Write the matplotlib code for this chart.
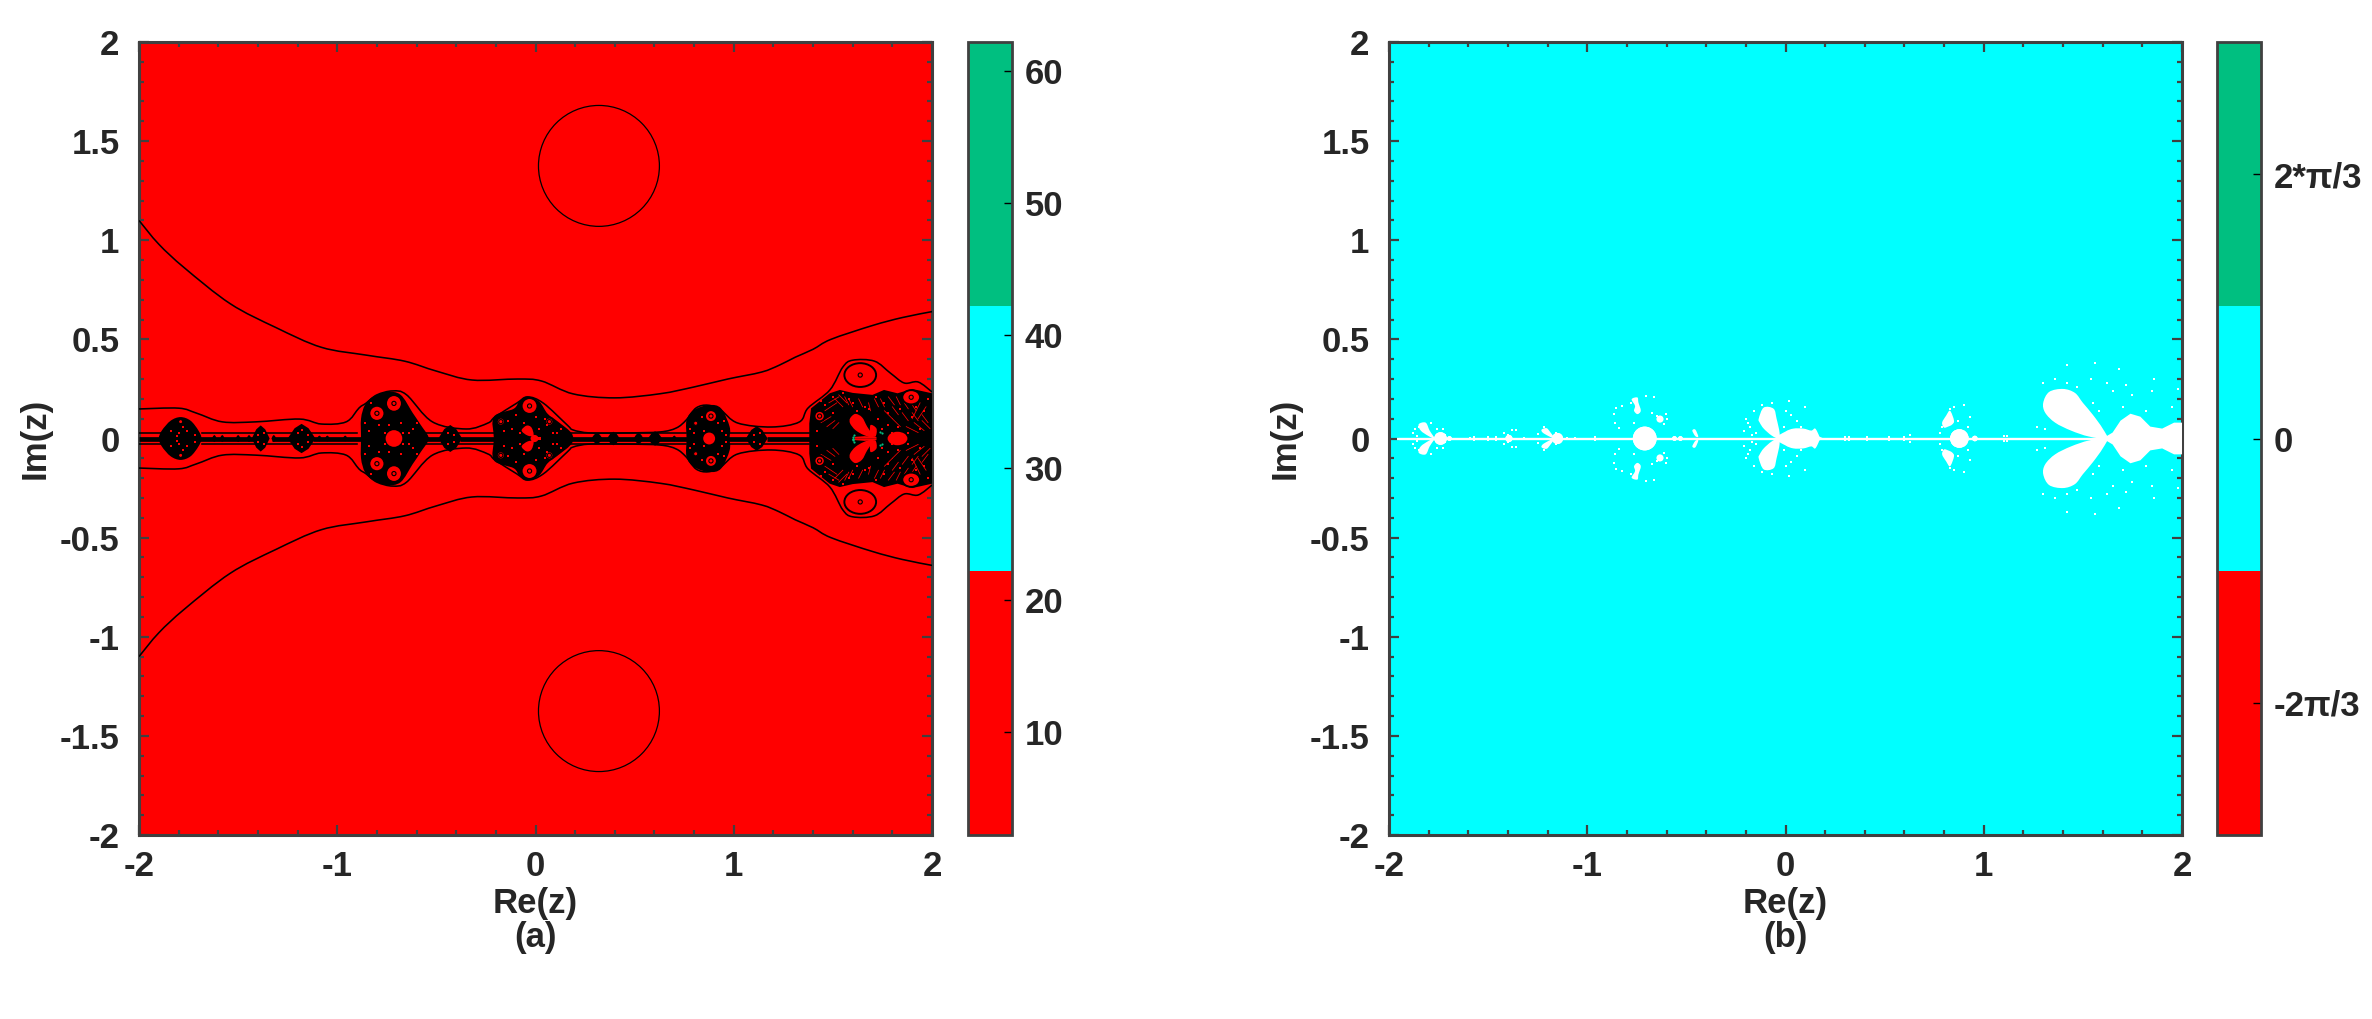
import matplotlib
matplotlib.use('Agg')
import matplotlib.pyplot as plt
from matplotlib.colors import ListedColormap
from matplotlib.patches import Ellipse, PathPatch
from matplotlib.path import Path
import numpy as np

plt.rcParams['font.family'] = ['Liberation Sans', 'DejaVu Sans']
plt.rcParams['font.weight'] = 'bold'
plt.rcParams['axes.unicode_minus'] = False

W, H = 2372, 1019
DARK = '#262626'
EDGE = '#404040'

# ── DATA ─────────────────────────────────────────────────────────────────────
band_colors = ['#FF0000', '#00FFFF', '#00BF80']
grid_a = [[10, 10], [10, 10]]
grid_b = [[0, 0], [0, 0]]
range_a = (2.2, 62.2)
range_b = (-np.pi, np.pi)
ticks_a = [10, 20, 30, 40, 50, 60]
ticks_b = [-2 * np.pi / 3, 0, 2 * np.pi / 3]
ticklabels_b = ['-2\u03c0/3', '0', '2*\u03c0/3']

# contours, upper half plane (mirrored when drawn)
outer_re = [-2, -1.9, -1.77, -1.54, -1.31, -1.08, -0.85, -0.66, -0.50, -0.32, -0.09, 0.03, 0.19,
            0.40, 0.63, 0.80, 0.97, 1.14, 1.23, 1.31, 1.40, 1.49, 1.7, 1.85, 2]
outer_im = [1.10, 0.98, 0.86, 0.68, 0.56, 0.46, 0.42, 0.39, 0.34, 0.295, 0.30, 0.29, 0.225,
            0.205, 0.226, 0.26, 0.30, 0.335, 0.37, 0.41, 0.45, 0.50, 0.57, 0.61, 0.64]
mid_re = [-2, -1.80, -1.71, -1.58, -1.41, -1.19, -1.08, -0.955, -0.89, -0.855, -0.80, -0.72, -0.65,
          -0.52, -0.35, -0.24, -0.205, -0.095, -0.04, 0.04, 0.16, 0.19, 0.275, 0.45, 0.628,
          0.71, 0.76, 0.81, 0.87, 0.935, 1.02, 1.19, 1.33, 1.375, 1.485, 1.55, 1.60, 1.71, 1.79,
          1.86, 1.93, 2.0]
mid_im = [0.149, 0.153, 0.128, 0.084, 0.084, 0.098, 0.073, 0.084, 0.154, 0.178, 0.22, 0.24, 0.22,
          0.084, 0.048, 0.078, 0.108, 0.178, 0.21, 0.178, 0.068, 0.043, 0.028, 0.028, 0.033,
          0.053, 0.093, 0.154, 0.168, 0.143, 0.078, 0.058, 0.083, 0.154, 0.245, 0.36, 0.395, 0.39,
          0.33, 0.28, 0.285, 0.235]
inner_re = [[-2, -1.92, -1.88], [-1.68, -0.9], [-0.56, -0.2], [0.18, 0.76], [0.97, 1.38]]
inner_im = [[0.03, 0.03, 0.03], [0.028, 0.028], [0.03, 0.03], [0.028, 0.028], [0.028, 0.028]]
circle_re = 0.32
circle_im = 1.375
circle_r = 0.305

# strand along the real axis (start, end)
strand_start = [-2, -1.7, -1.33, -1.12, -0.62, -0.38, 0.15, 0.95, 1.17]
strand_end = [-1.88, -1.42, -1.24, -0.86, -0.48, -0.2, 0.78, 1.07, 1.4]

# diamond beads: centre, half width, half height
bead_re = [-1.386, -1.18, -1.62, -1.58, -1.5, -1.445, -1.32, -1.09, -1.05, -0.96, -0.565, -0.43,
           0.31, 0.393, 0.52, 0.603, 0.70, 1.116]
bead_rx = [0.045, 0.07, 0.012, 0.012, 0.012, 0.012, 0.012, 0.012, 0.012, 0.012, 0.03, 0.06,
           0.028, 0.032, 0.025, 0.036, 0.012, 0.055]
bead_ry = [0.066, 0.074, 0.018, 0.018, 0.018, 0.018, 0.018, 0.015, 0.015, 0.015, 0.035, 0.068,
           0.028, 0.034, 0.028, 0.036, 0.015, 0.062]

# black bulk outlines, upper half
bulk0_re = [-1.90, -1.885, -1.84, -1.79, -1.74, -1.70, -1.685]
bulk0_im = [0, 0.04, 0.09, 0.108, 0.09, 0.04, 0]
bulk1_re = [-0.88, -0.88, -0.86, -0.82, -0.75, -0.68, -0.62, -0.58, -0.54]
bulk1_im = [0, 0.10, 0.17, 0.21, 0.235, 0.22, 0.13, 0.07, 0]
bulk2_re = [-0.21, -0.21, -0.11, -0.08, -0.035, 0.02, 0.06, 0.107, 0.175, 0.19]
bulk2_im = [0, 0.11, 0.15, 0.19, 0.21, 0.185, 0.126, 0.09, 0.035, 0]
bulk3_re = [0.762, 0.762, 0.80, 0.876, 0.936, 0.979, 0.979]
bulk3_im = [0, 0.093, 0.144, 0.169, 0.152, 0.06, 0]
bulk4_re = [1.381, 1.381, 1.39, 1.484, 1.535, 1.60, 1.70, 1.758, 1.826, 1.90, 2.0, 2.0]
bulk4_im = [0, 0.076, 0.152, 0.228, 0.245, 0.23, 0.22, 0.245, 0.228, 0.25, 0.228, 0]

# red discs with a black edge and a dot, upper half
ring_re = [-1.79, -0.80, -0.714, -0.03, -0.175, 0.07, 0.808, 0.885, 1.638, 1.895, 1.433]
ring_im = [0.085, 0.127, 0.177, 0.164, 0.085, 0.085, 0.077, 0.113, 0.32, 0.208, 0.113]
ring_rx = [0.014, 0.038, 0.04, 0.04, 0.02, 0.02, 0.016, 0.03, 0.08, 0.045, 0.026]
ring_ry = [0.014, 0.038, 0.042, 0.04, 0.02, 0.02, 0.016, 0.03, 0.06, 0.036, 0.026]

# red holes on the real axis
hole_re = [-0.714, 0.876, -0.005, 1.826]
hole_rx = [0.042, 0.03, 0.02, 0.05]
hole_ry = [0.042, 0.03, 0.018, 0.034]

# red petals, upper half
petal1_re = [1.587, 1.613, 1.647, 1.673, 1.707, 1.655, 1.613, 1.587]
petal1_im = [0.102, 0.124, 0.107, 0.06, 0.004, 0.018, 0.043, 0.076]
petal2_re = [1.610, 1.72, 1.72, 1.66, 1.61]
petal2_im = [0, 0, 0.008, 0.012, 0.008]
petal3_re = [1.69, 1.72, 1.715, 1.69]
petal3_im = [0.068, 0.05, 0.01, 0.02]
petal4_re = [-0.07, -0.045, -0.02, -0.01, -0.04]
petal4_im = [0.04, 0.065, 0.055, 0.015, 0.015]
petal5_re = [-0.02, 0.03, 0.03, -0.02]
petal5_im = [0.008, 0.008, 0.0, 0.0]

# red hatching in the big clusters (start/end of each stroke, upper half)
ray_x0 = [1.46, 1.48, 1.51, 1.53, 1.56, 1.58, 1.44, 1.47, 1.50, 1.74, 1.78, 1.82, 1.86, 1.90, 1.94, 1.97,
          1.76, 1.80, 1.85, 1.90, 1.95, 1.87, 1.91, 1.95, 1.80, 1.63, 1.68, 1.71]
ray_y0 = [0.14, 0.18, 0.20, 0.22, 0.21, 0.20, 0.08, 0.06, 0.05, 0.20, 0.21, 0.21, 0.18, 0.17, 0.18, 0.16,
          0.14, 0.16, 0.13, 0.13, 0.12, 0.06, 0.08, 0.09, 0.10, 0.20, 0.18, 0.20]
ray_x1 = [1.52, 1.53, 1.55, 1.57, 1.58, 1.60, 1.49, 1.51, 1.53, 1.76, 1.81, 1.84, 1.88, 1.92, 1.90, 1.93,
          1.80, 1.83, 1.88, 1.93, 1.98, 1.93, 1.96, 1.99, 1.84, 1.65, 1.69, 1.73]
ray_y1 = [0.18, 0.21, 0.16, 0.18, 0.17, 0.16, 0.11, 0.09, 0.08, 0.16, 0.17, 0.17, 0.15, 0.14, 0.10, 0.10,
          0.10, 0.12, 0.09, 0.09, 0.08, 0.03, 0.04, 0.05, 0.06, 0.16, 0.14, 0.16]

# red specks in the clusters, upper half
speck_re = [-1.84, -1.80, -1.76, -1.72, -1.78, -1.81, -1.40, -1.37, -1.20, -1.15, -1.18,
            -0.84, -0.76, -0.67, -0.62, -0.79, -0.74, -0.68, -0.64, -0.86, -0.83, -0.60,
            -0.16, -0.12, -0.08, 0.02, 0.06, 0.11, 0.13, -0.14, -0.06, 0.05, 0.09, -0.10, 0.00,
            0.80, 0.85, 0.94, 0.96, 0.84, 0.92, 0.78, 0.95,
            1.10, 1.13, -0.44, -0.41,
            1.42, 1.46, 1.50, 1.55, 1.60, 1.66, 1.72, 1.78, 1.84, 1.90, 1.96, 1.75, 1.80, 1.88, 1.94,
            1.62, 1.68, 1.73, 1.78, 1.92, 1.98, 1.44, 1.50, 1.58, 1.76, 1.83]
speck_im = [0.04, 0.03, 0.04, 0.02, 0.06, 0.015, 0.02, 0.03, 0.03, 0.02, 0.045,
            0.04, 0.03, 0.03, 0.05, 0.07, 0.07, 0.08, 0.03, 0.08, 0.18, 0.08,
            0.04, 0.05, 0.03, 0.05, 0.07, 0.03, 0.05, 0.09, 0.08, 0.10, 0.03, 0.12, 0.11,
            0.03, 0.04, 0.04, 0.02, 0.11, 0.08, 0.05, 0.09,
            0.02, 0.03, 0.03, 0.02,
            0.04, 0.17, 0.21, 0.23, 0.18, 0.16, 0.21, 0.13, 0.15, 0.11, 0.14, 0.05, 0.03, 0.03, 0.05,
            0.14, 0.15, 0.10, 0.07, 0.16, 0.20, 0.19, 0.13, 0.20, 0.18, 0.06]

# small green arcs near the centre of the right cluster
teal_re = [1.602, 1.60, 1.605, 1.74, 1.75]
teal_im = [0.008, 0.0, 0.016, 0.035, 0.028]

# panel (b): white line and blobs, upper half
line_b_start = -1.96
line_b_end = 2.0
blob1_re = [-1.85, -1.815, -1.795, -1.77, -1.80, -1.84]
blob1_im = [0.072, 0.08, 0.04, 0.0, 0.012, 0.04]
blob2_re = [-1.23, -1.205, -1.185, -1.165, -1.195, -1.225]
blob2_im = [0.045, 0.052, 0.03, 0.0, 0.012, 0.03]
blob3_re = [-0.776, -0.747, -0.742, -0.73, -0.747, -0.764, -0.759]
blob3_im = [0.198, 0.207, 0.182, 0.14, 0.123, 0.14, 0.165]
blob4_re = [-0.47, -0.455, -0.44, -0.455]
blob4_im = [0.04, 0.045, 0.01, 0.012]
blob5_re = [-0.135, -0.11, -0.06, -0.045, -0.03, -0.035, -0.07, -0.11, -0.13]
blob5_im = [0.10, 0.156, 0.15, 0.10, 0.03, 0.0, 0.015, 0.05, 0.08]
blob6_re = [-0.04, 0.0, 0.04, 0.09, 0.13, 0.15, 0.17, 0.17]
blob6_im = [0.0, 0.035, 0.05, 0.05, 0.04, 0.05, 0.012, 0.0]
blob7_re = [0.81, 0.83, 0.85, 0.84, 0.82, 0.80, 0.79]
blob7_im = [0.115, 0.14, 0.09, 0.07, 0.06, 0.055, 0.08]
blob8_re = [1.30, 1.33, 1.40, 1.46, 1.50, 1.55, 1.60, 1.62, 1.53, 1.44, 1.36, 1.31]
blob8_im = [0.18, 0.235, 0.25, 0.23, 0.18, 0.12, 0.05, 0.0, 0.01, 0.04, 0.08, 0.13]
blob9_re = [1.60, 1.65, 1.69, 1.74, 1.79, 1.84, 1.90, 1.96, 2.0, 2.0]
blob9_im = [0.0, 0.03, 0.09, 0.125, 0.11, 0.06, 0.05, 0.08, 0.08, 0.0]
disc_re = [-1.74, -1.695, -1.395, -1.15, -1.135, -0.71, -0.633, 0.877, -0.56, -0.53, 0.955]
disc_im = [0, 0, 0, 0, 0, 0, 0.098, 0, 0, 0, 0]
disc_r = [0.032, 0.012, 0.018, 0.028, 0.012, 0.06, 0.018, 0.047, 0.012, 0.012, 0.014]
dot_re = [-1.88, -1.87, -1.85, -1.86, -1.79, -1.76, -1.73, -1.72,
          -1.42, -1.38, -1.40, -1.36, -1.25, -1.22, -1.16,
          -1.59, -1.57, -1.50, -1.46, -1.32, -1.10, -1.06, -0.96,
          -0.857, -0.865, -0.86, -0.84, -0.823, -0.78, -0.705, -0.663, -0.604, -0.596, -0.613, -0.764, -0.672, -0.65,
          -0.20, -0.21, -0.18, -0.16, -0.15, -0.12, -0.07, 0.0, 0.03, 0.06, 0.08, 0.10, 0.02, -0.01, -0.19, -0.17,
          0.30, 0.32, 0.41, 0.52, 0.60, 0.63, 0.41, 0.78, 0.79, 0.81, 0.83, 0.85, 0.90, 0.93, 0.87, 0.92, 0.90,
          1.10, 1.115,
          1.30, 1.36, 1.42, 1.27, 1.31, 1.47, 1.54, 1.62, 1.72,
          1.55, 1.65, 1.75, 1.85, 1.95, 1.58, 1.70, 1.82,
          1.42, 1.56, 1.68, 1.86, 1.98]
dot_im = [0.03, 0.05, 0.06, 0.015, 0.08, 0.05, 0.05, 0.02,
          0.03, 0.045, 0.02, 0.045, 0.025, 0.06, 0.03,
          0.005, 0.008, 0.008, 0.008, 0.005, 0.005, 0.005, 0.006,
          0.156, 0.123, 0.08, 0.055, 0.165, 0.18, 0.215, 0.207, 0.123, 0.098, 0.072, 0.08, 0.131, 0.115,
          0.10, 0.04, 0.06, 0.14, 0.03, 0.17, 0.18, 0.14, 0.12, 0.09, 0.06, 0.16, 0.19, 0.06, 0.08, 0.02,
          0.008, 0.008, 0.008, 0.006, 0.006, 0.02, 0.01, 0.03, 0.06, 0.10, 0.15, 0.16, 0.17, 0.11, 0.09, 0.06, 0.03,
          0.012, 0.015,
          0.28, 0.30, 0.28, 0.06, 0.05, 0.26, 0.30, 0.28, 0.27,
          0.18, 0.24, 0.22, 0.24, 0.16, 0.14, 0.16, 0.14,
          0.37, 0.38, 0.35, 0.30, 0.25]


def smooth(xs, ys, closed=False):
    # bezier path through the points
    pts = np.column_stack([xs, ys]).astype(float)
    n = len(pts)
    idx = range(n) if closed else range(n - 1)
    verts = [pts[0]]
    codes = [Path.MOVETO]
    for i in idx:
        p1, p2 = pts[i], pts[(i + 1) % n]
        p0 = pts[(i - 1) % n] if (closed or i > 0) else p1
        p3 = pts[(i + 2) % n] if (closed or i + 2 < n) else p2
        verts += [p1 + (p2 - p0) / 6, p2 - (p3 - p1) / 6, p2]
        codes += [Path.CURVE4] * 3
    return Path(verts, codes)


def fill_smooth(ax, xs, ys, color, z):
    ax.add_patch(PathPatch(smooth(xs, ys, closed=True), fc=color, ec='none', lw=0, zorder=z))


def mirror(re, im):
    # close an upper-half outline through its reflection in the real axis
    return list(re) + list(re)[-2:0:-1], list(im) + [-v for v in im][-2:0:-1]


def both_halves(re, im):
    return list(re) + list(re), list(im) + [-v for v in im]


def style_axes(ax):
    ax.set_xlim(-2, 2)
    ax.set_ylim(-2, 2)
    ax.set_xticks(np.arange(-2, 3, 1))
    ax.set_xticks(np.arange(-2, 2.01, 0.2), minor=True)
    ax.set_yticks(np.arange(-2, 2.01, 0.5))
    ax.set_yticks(np.arange(-2, 2.01, 0.1), minor=True)
    ax.set_yticklabels(['-2', '-1.5', '-1', '-0.5', '0', '0.5', '1', '1.5', '2'])
    ax.tick_params(which='major', direction='in', length=7, width=1.6, color=EDGE,
                   top=True, right=True, labelsize=25, labelcolor=DARK, pad=14)
    ax.tick_params(axis='x', which='major', pad=11)
    ax.tick_params(which='minor', direction='in', length=3.5, width=1.6, color=EDGE, top=True, right=True)
    for s in ax.spines.values():
        s.set_linewidth(2.2)
        s.set_color(EDGE)
    ax.set_xlabel('Re(z)', fontsize=25, fontweight='bold', color=DARK, labelpad=3)
    ax.set_ylabel('Im(z)', fontsize=25, fontweight='bold', color=DARK, labelpad=6)


def add_panel(left, cleft, grid, vrange):
    ax = fig.add_axes([left / W, (H - 835) / H, 793 / W, 793 / H])
    im = ax.imshow(grid, extent=(-2, 2, -2, 2), cmap=cmap, vmin=vrange[0], vmax=vrange[1],
                   aspect='auto', interpolation='nearest', zorder=0)
    style_axes(ax)
    cax = fig.add_axes([cleft / W, (H - 835) / H, 44 / W, 793 / H])
    cb = fig.colorbar(im, cax=cax)
    cb.outline.set_linewidth(2)
    cb.outline.set_edgecolor(EDGE)
    cax.tick_params(direction='in', length=5.5, width=1, color='black', labelsize=25,
                    labelcolor=DARK, pad=9)
    return ax, cb


cmap = ListedColormap(band_colors)
fig = plt.figure(figsize=(W / 100, H / 100), dpi=100, facecolor='white')

ax_a, cb_a = add_panel(139, 968, grid_a, range_a)
cb_a.set_ticks(ticks_a)
ax_b, cb_b = add_panel(1389, 2217, grid_b, range_b)
cb_b.set_ticks(ticks_b, labels=ticklabels_b)

# ── PANEL A ──────────────────────────────────────────────────────────────────
LW = 1.15
for sign in (1, -1):
    for xs, ys in [(outer_re, outer_im), (mid_re, mid_im)]:
        ax_a.add_patch(PathPatch(smooth(xs, [sign * v for v in ys]), fc='none', ec='black', lw=LW, zorder=3))
    for xs, ys in zip(inner_re, inner_im):
        ax_a.plot(xs, [sign * v for v in ys], color='black', lw=LW, zorder=3)
    ax_a.add_patch(Ellipse((circle_re, sign * circle_im), 2 * circle_r, 2 * circle_r,
                           fc='none', ec='black', lw=0.9, zorder=3))
ax_a.hlines([0] * len(strand_start), strand_start, strand_end, color='black', lw=3.4, zorder=3)

for c, rx, ry in zip(bead_re, bead_rx, bead_ry):
    ax_a.fill([c - rx, c - rx * 0.5, c, c + rx * 0.5, c + rx, c + rx * 0.5, c, c - rx * 0.5],
              [0, ry * 0.7, ry, ry * 0.7, 0, -ry * 0.7, -ry, -ry * 0.7], color='black', lw=0, zorder=3)
for xs, ys in [(bulk0_re, bulk0_im), (bulk1_re, bulk1_im), (bulk2_re, bulk2_im), (bulk3_re, bulk3_im)]:
    px, py = mirror(xs, ys)
    fill_smooth(ax_a, px, py, 'black', 3)
px, py = mirror(bulk4_re, bulk4_im)
ax_a.fill(px, py, color='black', lw=0, zorder=3)

for sign in (1, -1):
    # hatching
    for x0, y0, x1, y1 in zip(ray_x0, ray_y0, ray_x1, ray_y1):
        ax_a.plot([x0, x1], [sign * y0, sign * y1], color='#FF0000', lw=0.55, zorder=4)
    # discs
    for x, y, rx, ry in zip(ring_re, ring_im, ring_rx, ring_ry):
        ax_a.add_patch(Ellipse((x, sign * y), 2 * rx, 2 * ry, fc='#FF0000', ec='black', lw=1.4, zorder=5))
    ax_a.scatter(ring_re, [sign * v for v in ring_im], s=9, facecolor='none', edgecolor='black',
                 linewidth=0.8, zorder=6)
    # petals
    for xs, ys in [(petal1_re, petal1_im), (petal3_re, petal3_im), (petal4_re, petal4_im)]:
        fill_smooth(ax_a, xs, [sign * v for v in ys], '#FF0000', 5)
    for xs, ys in [(petal2_re, petal2_im), (petal5_re, petal5_im)]:
        ax_a.fill(xs, [sign * v for v in ys], color='#FF0000', lw=0, zorder=5)
    ax_a.scatter(speck_re, [sign * v for v in speck_im], s=3, color='#FF0000', marker='s', lw=0, zorder=5)
    ax_a.scatter(teal_re, [sign * v for v in teal_im], s=2.5, color='#00BF80', lw=0, zorder=6)
for x, rx, ry in zip(hole_re, hole_rx, hole_ry):
    ax_a.add_patch(Ellipse((x, 0), 2 * rx, 2 * ry, fc='#FF0000', ec='none', zorder=5))

# ── PANEL B ──────────────────────────────────────────────────────────────────
ax_b.plot([line_b_start, line_b_end], [0, 0], color='white', lw=1.7, zorder=3, solid_capstyle='butt')
for xs, ys in [(blob1_re, blob1_im), (blob2_re, blob2_im), (blob3_re, blob3_im), (blob4_re, blob4_im),
               (blob5_re, blob5_im), (blob6_re, blob6_im), (blob7_re, blob7_im), (blob8_re, blob8_im)]:
    for sign in (1, -1):
        fill_smooth(ax_b, xs, [sign * v for v in ys], 'white', 3)
for sign in (1, -1):
    ax_b.fill(blob9_re, [sign * v for v in blob9_im], color='white', lw=0, zorder=3)
for x, y, r in zip(disc_re, disc_im, disc_r):
    for sign in (1, -1):
        ax_b.add_patch(Ellipse((x, sign * y), 2 * r, 2 * r, fc='white', ec='none', zorder=3))
dx, dy = both_halves(dot_re, dot_im)
ax_b.scatter(dx, dy, s=3, color='white', marker='s', lw=0, zorder=3)

# ── CAPTIONS ─────────────────────────────────────────────────────────────────
fig.text((139 + 396) / W, 1 - 938 / H, '(a)', ha='center', va='center', fontsize=25,
         fontweight='bold', color=DARK)
fig.text((1389 + 396) / W, 1 - 938 / H, '(b)', ha='center', va='center', fontsize=25,
         fontweight='bold', color=DARK)

fig.savefig('out.png', dpi=100)
